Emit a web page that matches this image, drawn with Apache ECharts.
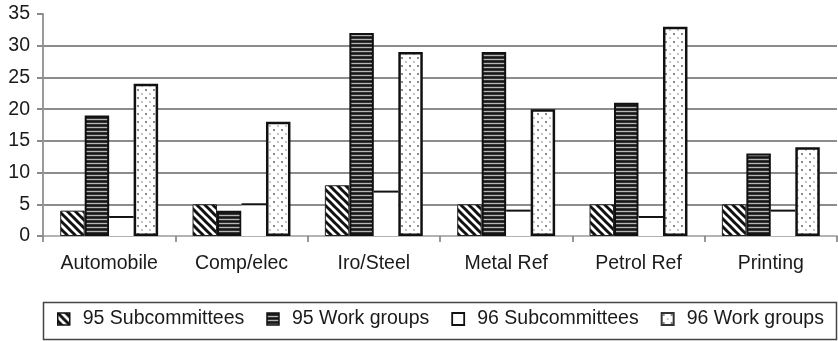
<!DOCTYPE html>
<html>
<head>
<meta charset="utf-8">
<style>
  html, body { margin: 0; padding: 0; background: #fff; }
  #chart { width: 838px; height: 341px; }
</style>
<script src="https://cdn.jsdelivr.net/npm/echarts@6/dist/echarts.min.js"></script>
</head>
<body>
<div id="chart"></div>
<script>
// Committee counts per industry, 1995 vs 1996
const categories = ['Automobile', 'Comp/elec', 'Iro/Steel', 'Metal Ref', 'Petrol Ref', 'Printing'];
const sub95 = [4, 5, 8, 5, 5, 5];
const work95 = [19, 4, 32, 29, 21, 13];
const sub96 = [3, 5, 7, 4, 3, 4];
const work96 = [24, 18, 29, 20, 33, 14];
const seriesNames = ['95 Subcommittees', '95 Work groups', '96 Subcommittees', '96 Work groups'];
const yMin = 0, yMax = 35, yStep = 5;

const FONT = "'Liberation Sans', Arial, sans-serif";
const FONT_SIZE = 19.5;
const BAR_FRAC = 0.185;
const GRID_COLOR = '#8c8c8c';

// --- fill patterns ---
function makeCanvas(w, h, draw) {
  const c = document.createElement('canvas');
  c.width = w; c.height = h;
  draw(c.getContext('2d'), w, h);
  return c;
}
const hatch = makeCanvas(8, 8, (g, w, h) => {
  g.fillStyle = '#fff'; g.fillRect(0, 0, w, h);
  g.strokeStyle = '#111'; g.lineWidth = 3;
  for (const off of [-8, 0, 8]) {
    g.beginPath(); g.moveTo(off - 1, -1); g.lineTo(off + w + 1, h + 1); g.stroke();
  }
});
const stripes = makeCanvas(4, 4, (g, w, h) => {
  g.fillStyle = '#353535'; g.fillRect(0, 0, w, h);
  g.fillStyle = '#151515'; g.fillRect(0, 1, w, 1);
  g.fillStyle = '#b5b5b5'; g.fillRect(0, 3, w, 1);
});
const dots = makeCanvas(8, 8, (g, w, h) => {
  g.fillStyle = '#fff'; g.fillRect(0, 0, w, h);
  g.fillStyle = '#8a8a8a';
  g.fillRect(1, 1, 2, 2);
  g.fillStyle = '#c8c8c8';
  g.fillRect(5, 5, 2, 2);
});

// gridlines at every step except the baseline and the top value
const gridColors = [];
for (let v = yMin; v <= yMax; v += yStep) {
  gridColors.push(v === yMin || v === yMax ? 'rgba(0,0,0,0)' : GRID_COLOR);
}

const chart = echarts.init(document.getElementById('chart'), null, { renderer: 'canvas' });

const barBase = { type: 'bar', barWidth: (BAR_FRAC * 100) + '%', barGap: '0%' };

chart.setOption({
  animation: false,
  backgroundColor: '#fff',
  grid: { left: 43, right: 1, top: 14, bottom: 105, containLabel: false },
  xAxis: {
    type: 'category',
    data: categories,
    axisLine: { lineStyle: { color: '#9a9a9a', width: 1.5 } },
    axisTick: { show: true, length: 6, lineStyle: { color: '#777', width: 1.5 } },
    axisLabel: { color: '#1a1a1a', fontSize: FONT_SIZE, fontFamily: FONT, margin: 18 }
  },
  yAxis: {
    type: 'value',
    min: yMin, max: yMax, interval: yStep,
    axisLine: { show: true, lineStyle: { color: '#9a9a9a', width: 2 } },
    axisTick: { show: true, length: 6, lineStyle: { color: '#8a8a8a', width: 2 } },
    axisLabel: { color: '#1a1a1a', fontSize: FONT_SIZE, fontFamily: FONT, margin: 13 },
    splitLine: { show: true, lineStyle: { color: gridColors, width: 1.8 } }
  },
  legend: {
    left: 57, top: 309,
    padding: 0,
    itemWidth: 12, itemHeight: 12,
    itemGap: 22,
    icon: 'rect',
    textStyle: { color: '#1a1a1a', fontSize: FONT_SIZE, fontFamily: FONT, padding: [0, 0, 0, 8] },
    data: [
      { name: seriesNames[0], itemStyle: { color: { image: hatch, repeat: 'repeat' }, borderColor: '#111', borderWidth: 1.5 } },
      { name: seriesNames[1], itemStyle: { color: { image: stripes, repeat: 'repeat' }, borderColor: '#111', borderWidth: 1.5 } },
      { name: seriesNames[2], itemStyle: { color: '#fff', borderColor: '#111', borderWidth: 1.8 } },
      { name: seriesNames[3], itemStyle: { color: { image: dots, repeat: 'repeat' }, borderColor: '#333', borderWidth: 2 } }
    ]
  },
  graphic: [{
    type: 'rect',
    shape: { x: 43.5, y: 302.5, width: 793, height: 37 },
    style: { fill: null, stroke: '#444', lineWidth: 1.5 },
    z: -1
  }],
  series: [
    Object.assign({}, barBase, {
      name: seriesNames[0], data: sub95,
      itemStyle: { color: { image: hatch, repeat: 'repeat' }, borderColor: '#222', borderWidth: 1 }
    }),
    Object.assign({}, barBase, {
      name: seriesNames[1], data: work95,
      itemStyle: { color: { image: stripes, repeat: 'repeat' }, borderColor: '#111', borderWidth: 2 }
    }),
    Object.assign({}, barBase, {
      name: seriesNames[2], data: sub96,
      itemStyle: { color: '#fff', borderWidth: 0 }
    }),
    Object.assign({}, barBase, {
      name: seriesNames[3], data: work96,
      itemStyle: { color: { image: dots, repeat: 'repeat' }, borderColor: '#111', borderWidth: 2.5 }
    }),
    {
      // top edge of the open 96 Subcommittees bars (third slot in each band)
      type: 'custom',
      name: 'sub96-top',
      z: 5,
      silent: true,
      data: sub96.map((v, i) => [i, v]),
      encode: { x: 0, y: 1 },
      renderItem: function (params, api) {
        const p = api.coord([api.value(0), api.value(1)]);
        const band = api.size([1, 0])[0];
        const w = band * BAR_FRAC;
        return {
          type: 'line',
          shape: { x1: p[0], y1: p[1], x2: p[0] + w, y2: p[1] },
          style: { stroke: '#111', lineWidth: 2 }
        };
      }
    }
  ]
});
</script>
</body>
</html>
